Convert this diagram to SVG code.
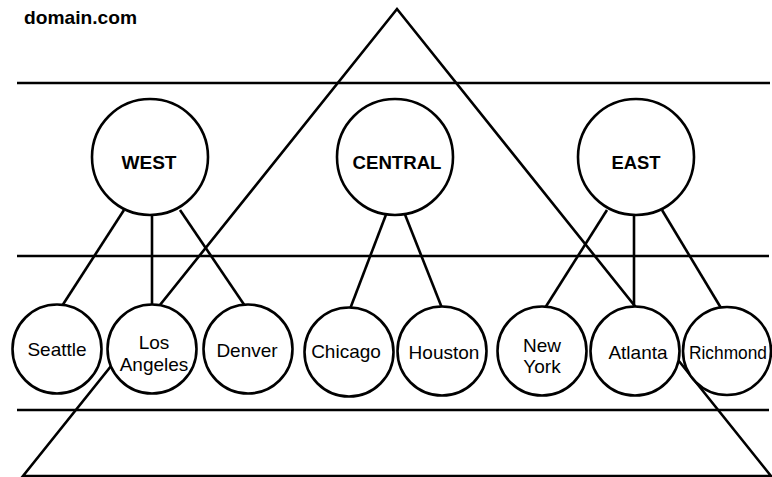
<svg xmlns="http://www.w3.org/2000/svg" width="772" height="477" viewBox="0 0 772 477">
  <style>
    .ln { stroke: #000; stroke-width: 2.6; fill: none; stroke-linecap: butt; }
    .nd { stroke: #000; stroke-width: 2.6; fill: #fff; }
    .t  { font-family: "Liberation Sans", Arial, sans-serif; font-size: 19px; fill: #000; text-anchor: middle; }
    .b  { font-weight: bold; }
  </style>
  <rect width="772" height="477" fill="#fff"/>

  <text class="t b" x="24" y="24" style="text-anchor:start" textLength="113" lengthAdjust="spacingAndGlyphs">domain.com</text>

  <!-- level separators -->
  <g id="levels">
    <line class="ln" x1="17" y1="83" x2="770" y2="83"/>
    <line class="ln" x1="17" y1="256" x2="769" y2="256"/>
    <line class="ln" x1="17" y1="410" x2="769" y2="410"/>
  </g>

  <!-- domain triangle -->
  <polygon id="domain" class="ln" points="397,9 23,476 771,476" stroke-linejoin="miter"/>

  <!-- connectors -->
  <g id="connectors">
    <line class="ln" x1="124" y1="210" x2="62" y2="306"/>
    <line class="ln" x1="152" y1="212" x2="152" y2="306"/>
    <line class="ln" x1="180" y1="210" x2="245" y2="306"/>
    <line class="ln" x1="387" y1="212" x2="350" y2="309"/>
    <line class="ln" x1="404" y1="212" x2="442" y2="308"/>
    <line class="ln" x1="607" y1="210" x2="545" y2="308"/>
    <line class="ln" x1="634" y1="212" x2="634" y2="308"/>
    <line class="ln" x1="662" y1="210" x2="721" y2="308"/>
  </g>

  <!-- regional sites -->
  <g id="west">
    <circle class="nd" cx="150" cy="157" r="58"/>
    <text class="t b" x="149" y="169" textLength="55" lengthAdjust="spacingAndGlyphs">WEST</text>
  </g>
  <g id="central">
    <circle class="nd" cx="395" cy="157" r="58"/>
    <text class="t b" x="397" y="169" textLength="89" lengthAdjust="spacingAndGlyphs">CENTRAL</text>
  </g>
  <g id="east">
    <circle class="nd" cx="636" cy="157" r="58"/>
    <text class="t b" x="636" y="169" textLength="49" lengthAdjust="spacingAndGlyphs">EAST</text>
  </g>

  <!-- city sites -->
  <g id="seattle">
    <circle class="nd" cx="57" cy="349" r="44.5"/>
    <text class="t" x="57" y="356">Seattle</text>
  </g>
  <g id="los-angeles">
    <circle class="nd" cx="152" cy="349" r="44.5"/>
    <text class="t" x="154" y="349">Los</text>
    <text class="t" x="154" y="371">Angeles</text>
  </g>
  <g id="denver">
    <circle class="nd" cx="248" cy="349" r="44.5"/>
    <text class="t" x="247" y="357">Denver</text>
  </g>
  <g id="chicago">
    <circle class="nd" cx="349" cy="352" r="44.5"/>
    <text class="t" x="346" y="358">Chicago</text>
  </g>
  <g id="houston">
    <circle class="nd" cx="442" cy="351" r="44.5"/>
    <text class="t" x="444" y="359">Houston</text>
  </g>
  <g id="new-york">
    <circle class="nd" cx="542" cy="351" r="44.5"/>
    <text class="t" x="542" y="352">New</text>
    <text class="t" x="542" y="373">York</text>
  </g>
  <g id="atlanta">
    <circle class="nd" cx="635" cy="351" r="44.5"/>
    <text class="t" x="638" y="359">Atlanta</text>
  </g>
  <g id="richmond">
    <circle class="nd" cx="727" cy="351" r="44"/>
    <text class="t" x="728" y="359" textLength="78" lengthAdjust="spacingAndGlyphs">Richmond</text>
  </g>
</svg>
